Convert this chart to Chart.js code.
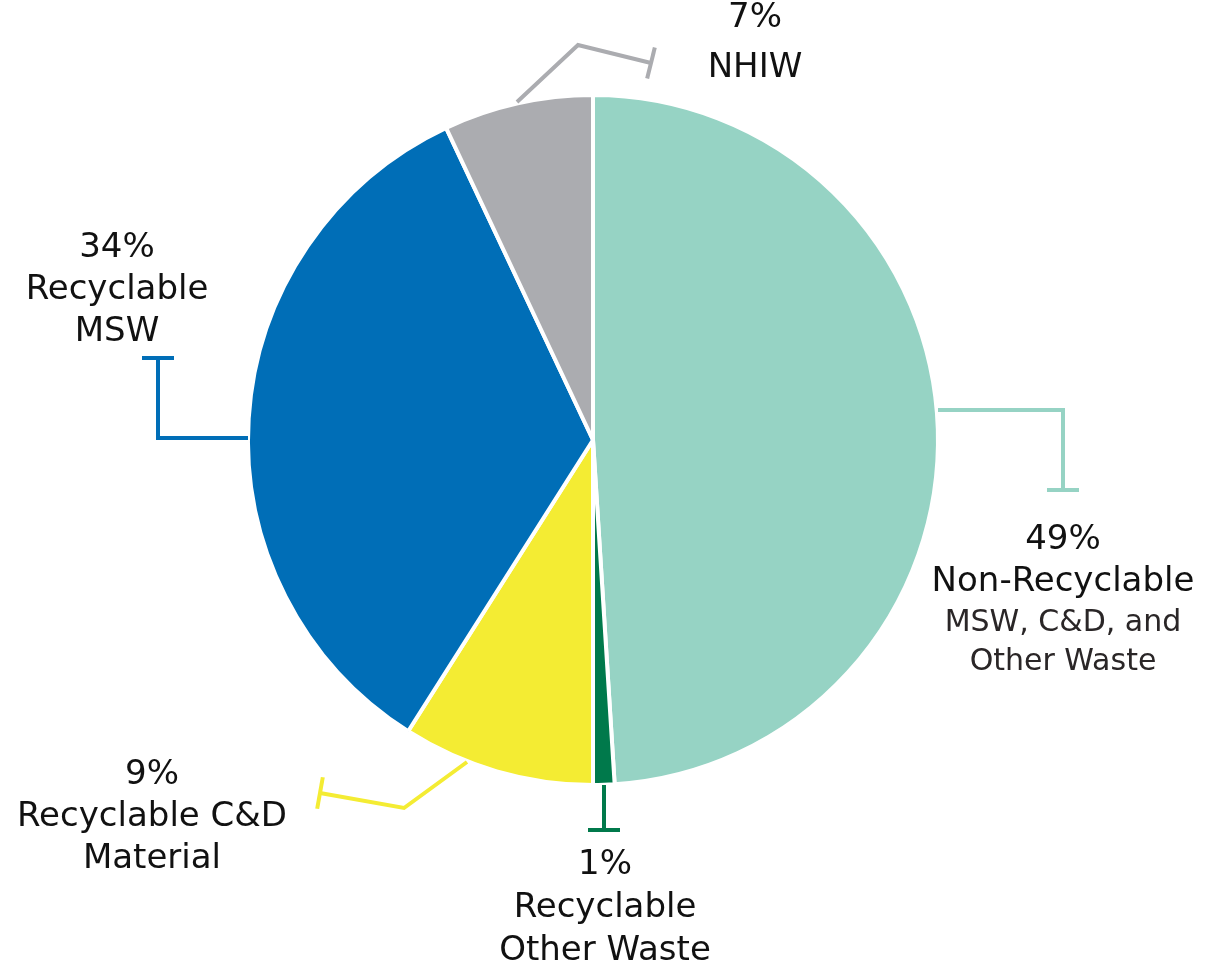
<!DOCTYPE html>
<html>
<head>
<meta charset="utf-8">
<script src="https://cdn.jsdelivr.net/npm/chart.js@4/dist/chart.umd.min.js"></script>
<style>
  html, body { margin: 0; padding: 0; background: #fff; }
  #wrap { width: 1208px; height: 962px; position: relative; }
</style>
</head>
<body>
<div id="wrap"><canvas id="wastePie"></canvas></div>
<script>
// ========== DATA ==========
const categories = [
  'Non-Recyclable MSW, C&D, and Other Waste',
  'Recyclable Other Waste',
  'Recyclable C&D Material',
  'Recyclable MSW',
  'NHIW'
];
const shares = [49, 1, 9, 34, 7];
const sliceColors = ['#96d3c4', '#00794b', '#f4ec33', '#006eb7', '#abacb0'];

// label lines per slice: [text, size, color]
const labelLines = [
  [['49%', 34, '#111'], ['Non-Recyclable', 34, '#111'], ['MSW, C&D, and', 30, '#2a2627'], ['Other Waste', 30, '#2a2627']],
  [['1%', 34, '#111'], ['Recyclable', 34, '#111'], ['Other Waste', 34, '#111']],
  [['9%', 34, '#111'], ['Recyclable C&D', 34, '#111'], ['Material', 34, '#111']],
  [['34%', 34, '#111'], ['Recyclable', 34, '#111'], ['MSW', 34, '#111']],
  [['7%', 34, '#111'], ['NHIW', 34, '#111']]
];

// ========== LEADERS + LABELS ==========
// leader paths are offsets from the pie centre, last point gets the T cap
const leaders = [
  { pts: [[345, -30], [470, -30], [470, 50]], label: [470, 100] },
  { pts: [[11, 345], [11, 390]], label: [12, 425] },
  { pts: [[-126, 322], [-189, 368], [-273, 353]], label: [-441, 335] },
  { pts: [[-345, -2], [-435, -2], [-435, -82]], label: [-476, -192] },
  { pts: [[-76, -338], [-15, -395], [58, -377]], label: [162, -422] }
];
const lineGap = [42, 43, 42, 42, 50];

const leaderPlugin = {
  id: 'leaders',
  afterDatasetsDraw(chart) {
    const ctx = chart.ctx;
    const arc = chart.getDatasetMeta(0).data[0];
    const cx = arc.x, cy = arc.y;
    ctx.save();
    leaders.forEach((ld, i) => {
      const p = ld.pts.map(([dx, dy]) => [cx + dx, cy + dy]);
      ctx.strokeStyle = sliceColors[i];
      ctx.lineWidth = 4;
      ctx.lineJoin = 'miter';
      ctx.beginPath();
      ctx.moveTo(p[0][0], p[0][1]);
      for (let k = 1; k < p.length; k++) ctx.lineTo(p[k][0], p[k][1]);
      ctx.stroke();
      // T cap perpendicular to the last segment
      const a = p[p.length - 2], b = p[p.length - 1];
      const len = Math.hypot(b[0] - a[0], b[1] - a[1]);
      const nx = -(b[1] - a[1]) / len, ny = (b[0] - a[0]) / len;
      ctx.beginPath();
      ctx.moveTo(b[0] - nx * 16, b[1] - ny * 16);
      ctx.lineTo(b[0] + nx * 16, b[1] + ny * 16);
      ctx.stroke();

      // text block
      ctx.textAlign = 'center';
      ctx.textBaseline = 'middle';
      const tx = cx + ld.label[0];
      let ty = cy + ld.label[1];
      labelLines[i].forEach(([txt, size, col], j) => {
        ctx.font = size + 'px "DejaVu Sans", sans-serif';
        ctx.fillStyle = col;
        ctx.fillText(txt, tx, ty);
        ty += (j === 1 && i === 0) ? 41 : lineGap[i] - (i === 0 && j > 1 ? 3 : 0);
      });
    });
    ctx.restore();
  }
};

// ========== CHART ==========
new Chart(document.getElementById('wastePie'), {
  type: 'pie',
  data: {
    labels: categories,
    datasets: [{
      data: shares,
      backgroundColor: sliceColors,
      borderColor: '#ffffff',
      borderWidth: 4
    }]
  },
  options: {
    responsive: true,
    maintainAspectRatio: false,
    animation: false,
    layout: { padding: { left: 246, right: 268, top: 93, bottom: 175 } },
    plugins: {
      legend: { display: false },
      tooltip: { enabled: false }
    }
  },
  plugins: [leaderPlugin]
});
</script>
</body>
</html>
